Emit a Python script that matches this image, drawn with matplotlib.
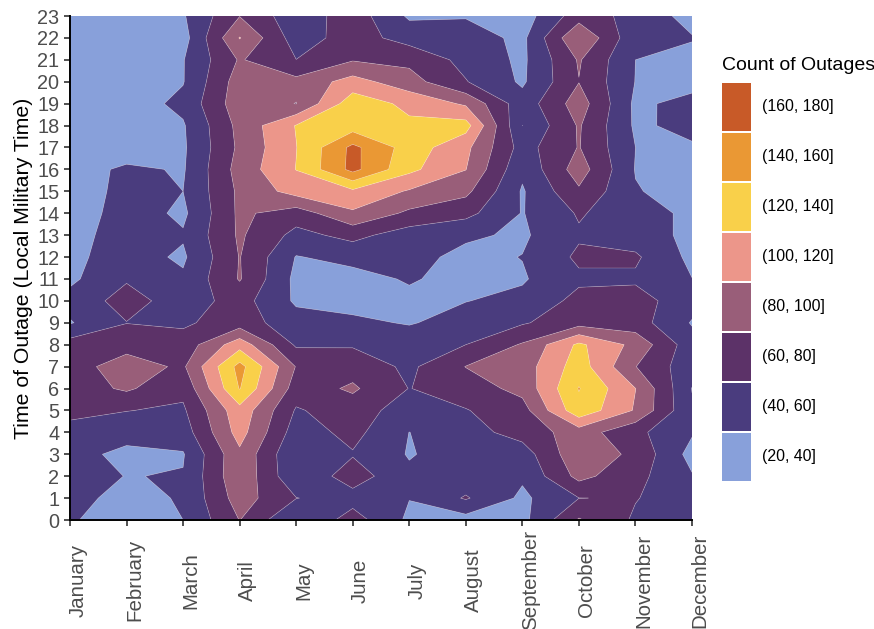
import numpy as np
import matplotlib
matplotlib.use("Agg")
import matplotlib.pyplot as plt
import matplotlib.transforms as mtransforms
from matplotlib.patches import Rectangle

months = ["January", "February", "March", "April", "May", "June", "July",
          "August", "September", "October", "November", "December"]
hours = list(range(24))

# Outage counts per hour of day (0..23) for each month
jan = [42, 47, 48, 48, 50, 68, 70, 73, 69, 38.5, 47, 36, 36, 32, 27, 25, 30, 28, 27, 26, 25, 25, 25, 25]
feb = [30, 33, 39.5, 34, 49, 60.5, 83, 88, 74, 59.5, 68, 58, 48, 50, 50, 48, 44, 27, 28, 30, 27, 26, 25, 25]
mar = [40, 42, 41, 38.5, 50, 57, 65, 77, 68, 57, 50, 43, 37, 42, 36, 40, 38, 37, 38, 45, 39, 39, 32, 38]
apr = [80.5, 89.5, 96, 96, 108, 113, 141, 147, 112, 70, 68, 81.5, 80.8, 83, 84, 84, 88, 84, 86, 92, 90, 82, 101, 79.5]
may = [39.5, 60.5, 43, 41, 50, 58, 70, 79, 57, 48, 37, 35, 39, 54, 70, 108, 120.5, 119.5, 121, 79.5, 86, 60.2, 50, 47]
jun = [69, 52, 70, 58.5, 66, 70, 83, 72, 58, 44, 33, 33, 46, 66, 97, 116, 166, 165, 130, 132, 108, 78.5, 69, 71]
jul = [36, 40.5, 44, 38.5, 39.8, 50, 59.5, 56, 52, 38.5, 35, 42, 46, 50, 76, 98, 125, 131, 124, 115, 88, 75, 52, 37]
aug = [32, 62, 48, 50, 52, 59, 70, 80.5, 60, 48, 39.5, 33, 35, 43, 66, 85, 100.5, 105, 128, 97, 61, 54, 50, 38.5]
sep = [34, 36, 43, 50, 68, 72, 86, 90, 82, 58, 45, 38, 40.5, 37, 39, 38, 44, 52, 39.9, 48, 37, 36, 35, 30]
oct_ = [82, 59.8, 86, 95, 90, 134, 141, 130, 124, 72, 66, 56.3, 63.7, 57.5, 62, 77, 90, 81, 82, 90, 79.5, 82, 99.5, 71]
nov = [57, 61, 66, 75, 65, 98, 100.3, 80.5, 94, 69, 68, 57, 63, 50, 48, 41.3, 39, 40, 37, 36, 39.5, 40, 45, 53]
dec = [48, 48, 41.5, 33, 42, 42, 39.5, 47, 48, 38.5, 48, 40.3, 35, 35, 36, 32, 32, 38, 45, 46.5, 33, 34.5, 41.2, 33]

levels = [20, 40, 60, 80, 100, 120, 140, 160, 180]
bin_labels = ["(20, 40]", "(40, 60]", "(60, 80]", "(80, 100]",
              "(100, 120]", "(120, 140]", "(140, 160]", "(160, 180]"]
bin_colors = ["#88A0DA", "#4A3C7E", "#5C3268", "#995E79",
              "#EC968A", "#F9D04A", "#EA9834", "#C85A28"]

plt.rcParams['font.family'] = ['Liberation Sans', 'DejaVu Sans']

W, H = 874, 629
fig = plt.figure(figsize=(W / 100, H / 100), dpi=100)
fig.patch.set_facecolor("white")

ax = fig.add_axes([70 / W, 1 - 520 / H, 622 / W, 504 / H])
Z = np.array([jan, feb, mar, apr, may, jun, jul, aug, sep, oct_, nov, dec]).T
xm = np.arange(len(months))
yh = np.array(hours)

ax.contourf(xm, yh, Z, levels=levels, colors=bin_colors, antialiased=True)
ax.contour(xm, yh, Z, levels=levels[1:-1], colors="white", linewidths=0.5, alpha=0.3)

ax.set_xlim(0, len(months) - 1)
ax.set_ylim(0, 23)
for s in ("top", "right"):
    ax.spines[s].set_visible(False)
for s in ("left", "bottom"):
    ax.spines[s].set_linewidth(1.4)
    ax.spines[s].set_color("black")

ax.set_yticks(hours)
ax.set_yticklabels([str(h) for h in hours], fontsize=14.3, color="#4d4d4d")
ax.set_xticks(xm)
ax.set_xticklabels(months, rotation=90, va="center", ha="center",
                   fontsize=14.8, color="#4d4d4d")
ax.tick_params(axis="y", length=4, width=1.2, pad=3.6, color="#333333")
ax.tick_params(axis="x", length=4, width=1.2, pad=39.5, color="#333333")
shift = mtransforms.ScaledTranslation(8 / 100, 0, fig.dpi_scale_trans)
for lab in ax.get_xticklabels():
    lab.set_transform(lab.get_transform() + shift)

ax.set_ylabel("Time of Outage (Local Military Time)", fontsize=15.3, color="black")
ax.yaxis.set_label_coords((33 - 70) / 622, 0.5)

# legend drawn in pixel space on an overlay
lax = fig.add_axes([0, 0, 1, 1], facecolor="none")
lax.set_xlim(0, W)
lax.set_ylim(H, 0)
lax.axis("off")
lax.text(722, 65, "Count of Outages", fontsize=14, va="center", ha="left", color="black")
for i, (lab, col) in enumerate(zip(bin_labels[::-1], bin_colors[::-1])):
    top = 83 + i * 50
    lax.add_patch(Rectangle((722, top), 29, 48, facecolor=col, edgecolor="none"))
    lax.text(762, top + 24, lab, fontsize=11.4, va="center", ha="left", color="black")

fig.savefig("out.png", dpi=100, facecolor="white")
